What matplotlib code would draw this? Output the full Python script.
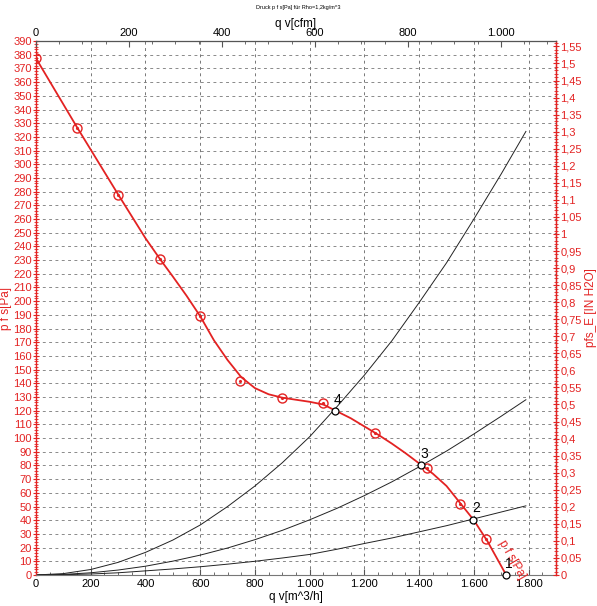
import numpy as np
import matplotlib
matplotlib.use('Agg')
import matplotlib.pyplot as plt
from matplotlib.ticker import MultipleLocator, FuncFormatter

plt.rcParams['font.family'] = ['Liberation Sans', 'DejaVu Sans']

RED = '#e32222'
PA_PER_INH2O = 249.09
M3H_PER_CFM = 1.699

# fan curve p f s [Pa] over q v [m^3/h]
fan_q = [0, 150, 300, 400, 454, 500, 550, 600, 650, 700, 750, 800, 850, 900, 950,
         1000, 1050, 1100, 1150, 1200, 1250, 1300, 1350, 1400, 1450, 1500, 1550,
         1600, 1650, 1718]
fan_p = [377.4, 327, 278, 246, 230.5, 218, 204, 189, 171.5, 157, 144.5, 136.5,
         132, 129.5, 128, 126.5, 124.5, 119.5, 114.5, 108.5, 102.5, 96, 89, 81.5,
         74, 65, 52.5, 40, 24.5, 0]

# measured points (circles on the fan curve)
meas_q = [0, 149, 298, 454, 600, 747, 899, 1050, 1238, 1430, 1551, 1645]
meas_p = [377.4, 326.5, 277.4, 231, 189, 141.5, 129.5, 125.4, 104, 78, 52, 26]

# system curves
sys_q = [0, 100, 200, 300, 400, 500, 600, 700, 800, 900, 1000, 1100, 1200, 1300,
         1400, 1500, 1600, 1700, 1790]
sys4_p = [0, 1, 4, 9.2, 16.5, 25.5, 36.5, 50, 65, 82, 101, 123, 146, 171, 199, 228,
          260, 293, 324]
sys3_p = [0, 0.4, 1.6, 3.6, 6.4, 10.1, 14.5, 19.7, 25.8, 32.6, 40.3, 48.7, 58, 68,
          79, 90.5, 103, 116, 128]
sys2_p = [0, 0.2, 0.7, 1.6, 3, 4.4, 6, 7.9, 10, 12.4, 15, 18.8, 23, 27, 31.5, 36,
          41, 46, 50.5]

# operating points
op_labels = ['1', '2', '3', '4']
op_q = [1716, 1597, 1407, 1092]
op_p = [0, 40.5, 80, 120]


def dot_fmt(x, pos):
    return f'{int(round(x)):,}'.replace(',', '.')


def comma_fmt(x, pos):
    s = f'{x:.2f}'.rstrip('0').rstrip('.')
    return s.replace('.', ',')


fig = plt.figure(figsize=(5.97, 6.06), dpi=100)
ax = fig.add_axes([0.0603, 0.0512, 0.871, 0.881])

ax.set_xlim(0, 1900)
ax.set_ylim(0, 390)

# grid
for y in range(10, 390, 10):
    ax.axhline(y, color='#8a8a8a', lw=0.7, ls=(0, (3, 3.5)), zorder=0)
for x in range(200, 1900, 200):
    ax.axvline(x, color='#777777', lw=0.7, ls=(0, (3, 3.5)), zorder=0)

# system curves
for p in (sys4_p, sys3_p, sys2_p):
    ax.plot(sys_q, p, color='#222222', lw=0.7, zorder=2)

# fan curve
ax.plot(fan_q, fan_p, color=RED, lw=1.3, zorder=3)
ax.plot(meas_q, meas_p, ls='none', marker='o', ms=6.5, mfc='none', mec=RED, mew=1.0, zorder=4)
ax.plot(meas_q, meas_p, ls='none', marker='.', ms=2.5, color=RED, zorder=4)
ax.text(1698, 25, 'p f s[Pa]', color=RED, fontsize=8.5, rotation=-60,
        rotation_mode='anchor', ha='left', va='center', zorder=5, clip_on=False)

# operating points
ax.plot(op_q, op_p, ls='none', marker='o', ms=5, mfc='white', mec='black', mew=0.9, zorder=6,
        clip_on=False)
for lab, q, p in zip(op_labels, op_q, op_p):
    ax.text(q + 10, p + 3, lab, fontsize=10, ha='center', va='bottom', zorder=7)

# left axis
ax.yaxis.set_major_locator(MultipleLocator(10))
ax.yaxis.set_minor_locator(MultipleLocator(2))
ax.tick_params(axis='y', which='major', colors=RED, labelsize=8, length=5, direction='inout', pad=0.5)
ax.tick_params(axis='y', which='minor', colors=RED, length=3, direction='inout')
ax.spines['left'].set_color(RED)
ax.spines['left'].set_linewidth(1.0)
ax.set_ylabel('p f s[Pa]', color=RED, fontsize=8.5, labelpad=1)

# bottom axis
ax.xaxis.set_major_locator(MultipleLocator(200))
ax.xaxis.set_minor_locator(MultipleLocator(50))
ax.xaxis.set_major_formatter(FuncFormatter(dot_fmt))
ax.tick_params(axis='x', which='major', labelsize=8, length=4, direction='in', pad=3, color='#555555')
ax.tick_params(axis='x', which='minor', length=2.5, direction='in', color='#555555')
ax.spines['bottom'].set_color('#777777')
ax.set_xlabel('q v[m^3/h]', fontsize=8.5, labelpad=1)

# right axis, inch H2O
axr = ax.twinx()
axr.set_ylim(0, 390 / PA_PER_INH2O)
axr.yaxis.set_major_locator(MultipleLocator(0.05))
axr.yaxis.set_minor_locator(MultipleLocator(0.01))
axr.yaxis.set_major_formatter(FuncFormatter(comma_fmt))
axr.tick_params(axis='y', which='major', colors=RED, labelsize=8, length=5, direction='inout', pad=0.5)
axr.tick_params(axis='y', which='minor', colors=RED, length=3, direction='inout')
axr.spines['right'].set_color(RED)
axr.spines['right'].set_linewidth(1.0)
axr.spines['left'].set_visible(False)
axr.spines['top'].set_visible(False)
axr.spines['bottom'].set_visible(False)
axr.set_ylabel('pfs_E [IN H2O]', color=RED, fontsize=8.5, labelpad=2)

# top axis, cfm
axt = ax.twiny()
axt.set_xlim(0, 1900 / M3H_PER_CFM)
axt.xaxis.set_major_locator(MultipleLocator(200))
axt.xaxis.set_minor_locator(MultipleLocator(50))
axt.xaxis.set_major_formatter(FuncFormatter(dot_fmt))
axt.tick_params(axis='x', which='major', labelsize=8, length=4, direction='in', pad=2, color='#555555')
axt.tick_params(axis='x', which='minor', length=2.5, direction='in', color='#555555')
axt.spines['top'].set_color('#555555')
for s in ('left', 'right', 'bottom'):
    axt.spines[s].set_visible(False)
axt.set_xlabel('q v[cfm]', fontsize=8.5, labelpad=1)

fig.text(0.5, 0.988, 'Druck p f s[Pa] für Rho=1,2kg/m^3', fontsize=4, ha='center', va='center')

fig.savefig('out.png', dpi=100)
